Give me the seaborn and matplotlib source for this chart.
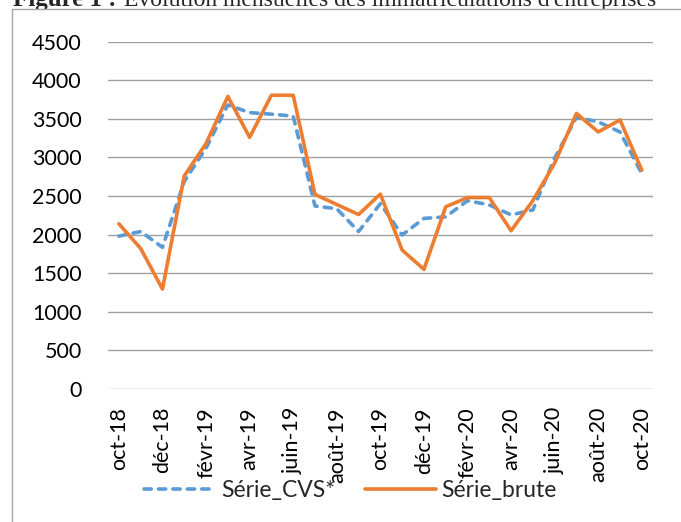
import numpy as np
import pandas as pd
import matplotlib.pyplot as plt
import seaborn as sns
from matplotlib.patches import Rectangle

mois = ['oct-18', 'nov-18', 'déc-18', 'janv-19', 'févr-19', 'mars-19', 'avr-19',
        'mai-19', 'juin-19', 'juil-19', 'août-19', 'sept-19', 'oct-19', 'nov-19',
        'déc-19', 'janv-20', 'févr-20', 'mars-20', 'avr-20', 'mai-20', 'juin-20',
        'juil-20', 'août-20', 'sept-20', 'oct-20']
serie_cvs = [1980, 2040, 1835, 2690, 3120, 3680, 3580, 3560, 3535, 2370, 2335, 2040,
             2400, 1995, 2210, 2230, 2440, 2385, 2255, 2320, 2990, 3520, 3460, 3330, 2790]
serie_brute = [2140, 1820, 1295, 2760, 3180, 3790, 3260, 3805, 3805, 2520, 2390, 2260,
               2525, 1800, 1550, 2360, 2480, 2480, 2050, 2440, 2925, 3570, 3330, 3485, 2835]
y_ticks = [0, 500, 1000, 1500, 2000, 2500, 3000, 3500, 4000, 4500]

df = pd.DataFrame({'pos': np.arange(len(mois)), 'mois': mois,
                   'Série_CVS*': serie_cvs, 'Série_brute': serie_brute})

sns.set_theme(style="white")
plt.rcParams['font.family'] = ['Lato', 'DejaVu Sans']

W, H = 681, 522
fs = 15.5
fig = plt.figure(figsize=(W / 100, H / 100), dpi=100, facecolor='white')

# cadre du graphique (Excel) et titre coupé au-dessus
cadre = Rectangle((12 / W, -0.1), 1.0, 1 - 9 / H + 0.1, transform=fig.transFigure,
                  facecolor='white', edgecolor='#A6A6A6', lw=1, zorder=-1)
fig.add_artist(cadre)
fig.text(13 / W, 1 - 6 / H, 'Figure 1 :', family='Liberation Serif', fontweight='bold',
         fontsize=18, va='baseline', zorder=-2)
fig.text(124 / W, 1 - 6 / H, "Evolution mensuelles des immatriculations d'entreprises",
         family='Liberation Serif', fontsize=17, va='baseline', zorder=-2)

ax = fig.add_axes([108 / W, 1 - 389 / H, 544.7 / W, 347.4 / H])
ax.patch.set_alpha(0)

sns.lineplot(data=df, x='pos', y='Série_CVS*', ax=ax, color='#5B9BD5', linewidth=2.6,
             linestyle=(0, (2.0, 2.0)), dash_capstyle='round', label='Série_CVS*')
sns.lineplot(data=df, x='pos', y='Série_brute', ax=ax, color='#ED7D31', linewidth=2.6,
             label='Série_brute')

ax.set_xlim(-0.5, len(mois) - 0.5)
ax.set_ylim(0, 4500)
ax.set_yticks(y_ticks)
ax.set_xticks(df['pos'][::2])
ax.set_xticklabels(df['mois'][::2], rotation=90)
ax.set_xlabel('')
ax.set_ylabel('')
ax.grid(axis='y', color='#A0A0A0', linewidth=1.0)
ax.set_axisbelow(True)
for s in ax.spines.values():
    s.set_visible(False)
ax.tick_params(axis='y', length=0, pad=19, labelsize=fs, colors='black')
ax.tick_params(axis='x', length=0, pad=13, labelsize=fs, colors='black')

ax.legend(loc='center', bbox_to_anchor=(350.5 / W, 1 - 491 / H), bbox_transform=fig.transFigure,
          ncol=2, frameon=False, handlelength=3.1, handletextpad=0.25, columnspacing=1.3,
          fontsize=16.5)

fig.savefig('out.png', dpi=100)
